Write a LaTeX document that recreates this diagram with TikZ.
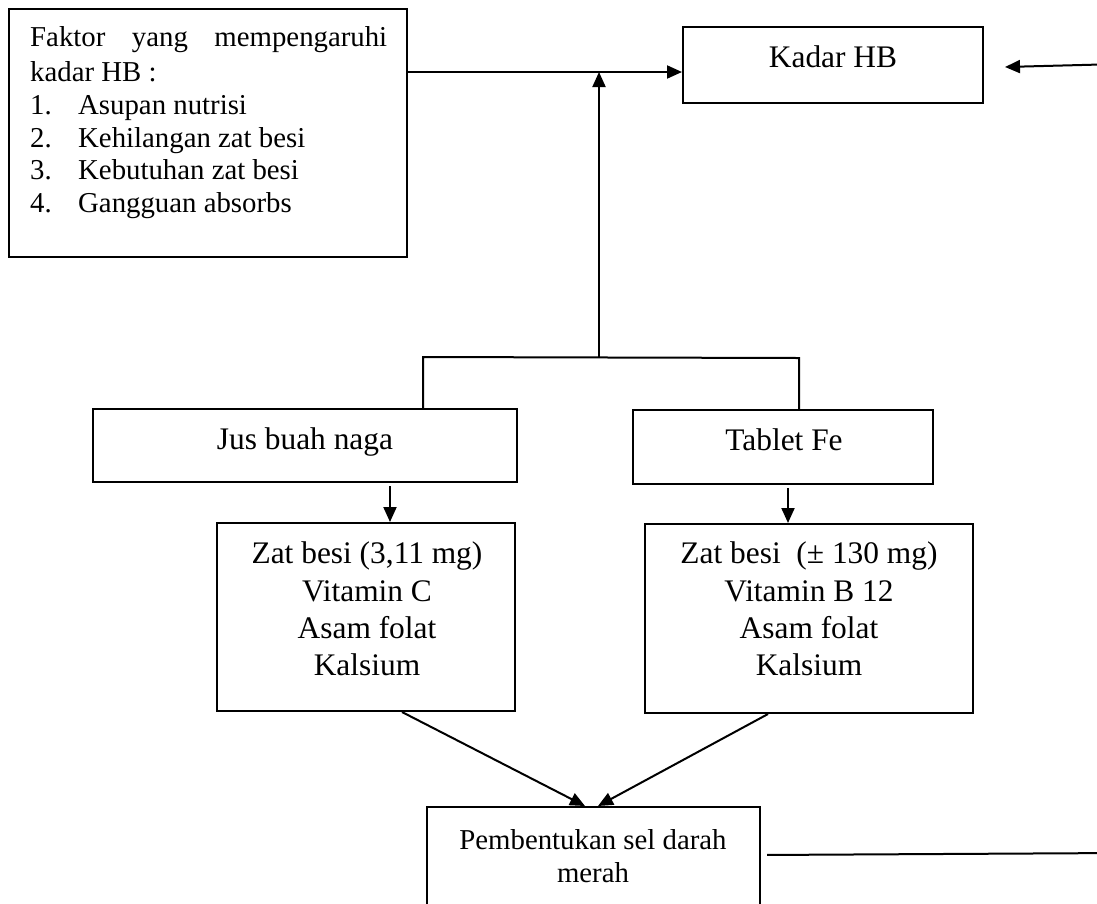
\documentclass[tikz,border=0pt]{standalone}
\usepackage{fontspec}
\setmainfont{Liberation Serif}
\usetikzlibrary{arrows.meta}
\tikzset{
  box/.style={draw, line width=2pt, inner sep=0pt},
  ln/.style={line width=2pt},
  arr/.style={line width=2pt, -{Triangle[length=15pt,width=13pt]}},
  big/.style={font=\fontsize{31.4}{37.3}\selectfont, inner sep=0pt},
  small/.style={font=\fontsize{28.8}{33.5}\selectfont, inner sep=0pt},
}
\begin{document}
\begin{tikzpicture}[x=1pt,y=-1pt]
\useasboundingbox (0,0) rectangle (1097,903);
\fill[white] (0,0) rectangle (1097,903);
\clip (0,0) rectangle (1097,903);

% boxes
\node[box, minimum width=398pt, minimum height=248pt] (faktor) at (208,133) {};
\node[box, minimum width=300pt, minimum height=76pt] (kadar) at (833,65) {};
\node[box, minimum width=424pt, minimum height=73pt] (jus) at (305,445.5) {};
\node[box, minimum width=300pt, minimum height=74pt] (tablet) at (783,447) {};
\node[box, minimum width=298pt, minimum height=188pt] (zatL) at (366,617) {};
\node[box, minimum width=328pt, minimum height=189pt] (zatR) at (809,618.5) {};
\node[box, minimum width=333pt, minimum height=120pt] (pemb) at (593.5,867) {};

% texts
\node[small, anchor=mid west] (f1) at (30,44) {\makebox[357pt][s]{Faktor yang mempengaruhi}};
\node[small, anchor=mid west] (f2) at (30,79) {kadar HB :};
\node[small, anchor=mid west] (n1) at (30,112) {1.};
\node[small, anchor=mid west] (t1) at (78,112) {Asupan nutrisi};
\node[small, anchor=mid west] (n2) at (30,145) {2.};
\node[small, anchor=mid west] (t2) at (78,145) {Kehilangan zat besi};
\node[small, anchor=mid west] (n3) at (30,177.5) {3.};
\node[small, anchor=mid west] (t3) at (78,177.5) {Kebutuhan zat besi};
\node[small, anchor=mid west] (n4) at (30,210) {4.};
\node[small, anchor=mid west] (t4) at (78,210) {Gangguan absorbs};

\node[big, anchor=mid] (kadart) at (833,65) {Kadar HB};
\node[big, anchor=mid] (just) at (305,447) {Jus buah naga};
\node[big, anchor=mid] (tablett) at (784,448) {Tablet Fe};
\node[big, align=center] (zatLt) at (367,609) {Zat besi (3,11 mg)\\Vitamin C\\Asam folat\\Kalsium};
\node[big, align=center] (zatRt) at (809,609) {Zat besi\ \ (\symbol{"00B1} 130 mg)\\Vitamin B 12\\Asam folat\\Kalsium};
\node[small, align=center] (pembt) at (593,856) {Pembentukan sel darah\\merah};

% connectors
\coordinate (j) at (599,72);
\coordinate (bt) at (599,357);
\coordinate (bl) at (423,357);
\coordinate (br) at (799,358);
\draw[arr] (faktor.east |- j) -- (kadar.west |- j);
\draw[arr] (bt) -- (j);
\draw[ln] (jus.north -| bl) -- (bl) -- (br) -- (tablet.north -| br);

\coordinate (aL) at (390,0);
\coordinate (aR) at (788,0);
\draw[arr, shorten <=3pt] (jus.south -| aL) -- (zatL.north -| aL);
\draw[arr, shorten <=3pt] (tablet.south -| aR) -- (zatR.north -| aR);

\coordinate (sL) at (402,0);
\coordinate (sR) at (768,0);
\coordinate (tL) at (585,0);
\coordinate (tR) at (598,0);
\draw[arr] (zatL.south -| sL) -- (pemb.north -| tL);
\draw[arr] (zatR.south -| sR) -- (pemb.north -| tR);

\coordinate (rt) at (1005,67);
\coordinate (c1) at (1120,853);
\coordinate (c2) at (1120,64);
\draw[arr, shorten <=6pt] (pemb.east |- 0,855) -- (c1) -- (c2) -- (rt);
\end{tikzpicture}
\end{document}
